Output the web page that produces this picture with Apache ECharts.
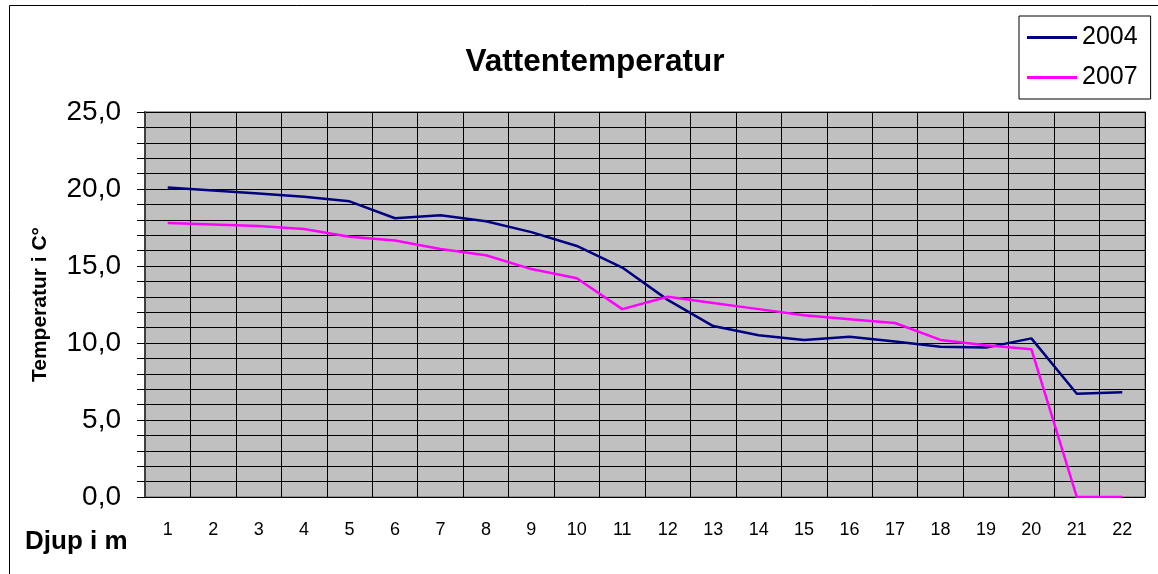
<!DOCTYPE html>
<html lang="sv">

<head>
    <meta charset="UTF-8">
    <title>Vattentemperatur</title>
    <script src="https://cdn.jsdelivr.net/npm/echarts@6.0.0/dist/echarts.min.js"></script>
    <style>
        body { margin: 0; background: #fff; }
    </style>
</head>

<body>
    <div id="chart" style="width: 1158px; height: 574px;"></div>
    <script>
        // djup i meter
        const depths = ['1', '2', '3', '4', '5', '6', '7', '8', '9', '10', '11',
            '12', '13', '14', '15', '16', '17', '18', '19', '20', '21', '22'];
        const temp2004 = [20.1, 19.9, 19.7, 19.5, 19.2, 18.1, 18.3, 17.9, 17.2, 16.3, 14.9,
            12.8, 11.1, 10.5, 10.2, 10.4, 10.1, 9.75, 9.7, 10.3, 6.7, 6.8];
        const temp2007 = [17.8, 17.7, 17.6, 17.4, 16.9, 16.65, 16.1, 15.7, 14.8, 14.2, 12.2,
            13.0, 12.6, 12.2, 11.8, 11.55, 11.3, 10.2, 9.85, 9.6, 0, 0];

        const font = 'Liberation Sans, Arial, sans-serif';
        const chart = echarts.init(document.getElementById('chart'));
        chart.setOption({
            animation: false,
            title: {
                text: 'Vattentemperatur',
                left: 590,
                textAlign: 'center',
                top: 41,
                textStyle: { fontFamily: font, fontSize: 31.5, fontWeight: 'bold', color: '#000' }
            },
            legend: {
                left: 1019,
                top: 16,
                orient: 'vertical',
                padding: [9, 13, 9, 8],
                itemGap: 15,
                itemWidth: 50,
                itemHeight: 3,
                icon: 'rect',
                borderColor: '#000',
                borderWidth: 1,
                textStyle: { fontFamily: font, fontSize: 25, color: '#000' },
                data: ['2004', '2007']
            },
            grid: { left: 145, right: 13, top: 112, bottom: 77, show: true, backgroundColor: '#c0c0c0', borderColor: '#808080', borderWidth: 1.5 },
            xAxis: {
                type: 'category',
                data: depths,
                boundaryGap: true,
                axisLine: { lineStyle: { color: '#000', width: 1 } },
                axisTick: { interval: 0, length: 7, lineStyle: { color: '#000' } },
                axisLabel: { interval: 0, fontFamily: font, fontSize: 18, color: '#000', margin: 24 },
                splitLine: { show: true, interval: 0, lineStyle: { color: '#000', width: 1 } }
            },
            yAxis: {
                type: 'value',
                min: 0,
                max: 25,
                interval: 5,
                name: 'Temperatur i C°',
                nameLocation: 'middle',
                nameGap: 94,
                nameTextStyle: { fontFamily: font, fontSize: 21, fontWeight: 'bold', color: '#000' },
                axisLine: { show: true, lineStyle: { color: '#404040', width: 2 } },
                axisTick: { show: true, length: 8, lineStyle: { color: '#000' } },
                minorTick: { show: true, splitNumber: 5, length: 8, lineStyle: { color: '#000' } },
                axisLabel: {
                    fontFamily: font, fontSize: 28, color: '#000', margin: 24,
                    formatter: v => v.toFixed(1).replace('.', ',')
                },
                splitLine: { show: true, lineStyle: { color: '#000', width: 1 } },
                minorSplitLine: { show: true, lineStyle: { color: '#000', width: 1 } }
            },
            series: [
                {
                    name: '2004',
                    type: 'line',
                    data: temp2004,
                    symbol: 'none',
                    itemStyle: { color: '#000080' },
                    lineStyle: { color: '#000080', width: 2.5 }
                },
                {
                    name: '2007',
                    type: 'line',
                    data: temp2007,
                    symbol: 'none',
                    itemStyle: { color: '#ff00ff' },
                    lineStyle: { color: '#ff00ff', width: 2.5 }
                }
            ],
            graphic: [
                {
                    type: 'rect',
                    shape: { x: 9.5, y: 5.5, width: 1160, height: 600 },
                    style: { fill: null, stroke: '#000', lineWidth: 1 },
                    silent: true
                },
                {
                    type: 'text',
                    left: 25,
                    top: 529,
                    style: { text: 'Djup i m', fontFamily: font, fontSize: 26, fontWeight: 'bold', fill: '#000' },
                    silent: true
                }
            ]
        });
    </script>
</body>

</html>
